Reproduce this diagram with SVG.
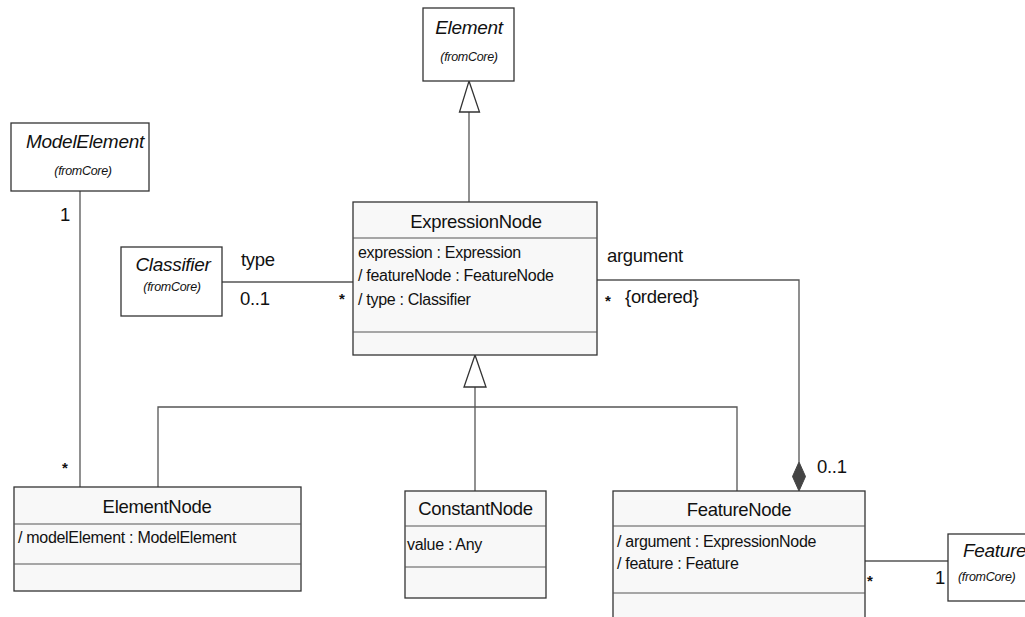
<svg xmlns="http://www.w3.org/2000/svg" width="1025" height="617" viewBox="0 0 1025 617">
  <style>
    .cls { fill: #f8f8f8; stroke: #333; stroke-width: 1.3; }
    .ref { fill: #ffffff; stroke: #333; stroke-width: 1.3; }
    .div { stroke: #555; stroke-width: 1.2; }
    .ln { fill: none; stroke: #555; stroke-width: 1.3; }
    text { font-family: "Liberation Sans", Arial, sans-serif; fill: #111; }
    .title { font-size: 18.5px; text-anchor: middle; letter-spacing: -0.3px; }
    .attr { font-size: 16px; letter-spacing: -0.3px; }
    .ital { font-size: 19px; font-style: italic; letter-spacing: -0.3px; }
    .from { font-size: 12.5px; font-style: italic; letter-spacing: -0.3px; }
    .lbl { font-size: 18.5px; letter-spacing: -0.3px; }
    .star { font-size: 15px; font-weight: bold; }
  </style>

  <!-- connectors -->
  <g id="connectors">
    <!-- generalization to Element -->
    <line class="ln" x1="469" y1="112" x2="469" y2="202"/>
    <polygon points="469,81 479.5,112 459.5,112" fill="#fff" stroke="#333" stroke-width="1.3"/>
    <!-- generalization tree to ExpressionNode -->
    <polyline class="ln" points="158,487 158,407 737,407 737,491"/>
    <line class="ln" x1="475" y1="387" x2="475" y2="491"/>
    <polygon points="475,355 486,387 464,387" fill="#fff" stroke="#333" stroke-width="1.3"/>
    <!-- ModelElement association -->
    <line class="ln" x1="80" y1="191" x2="80" y2="487"/>
    <!-- Classifier association -->
    <line class="ln" x1="222" y1="282" x2="353" y2="282"/>
    <!-- argument composition -->
    <polyline class="ln" points="597,280 799,280 799,462"/>
    <polygon points="799,462 805.5,476.5 799,491 792.5,476.5" fill="#444" stroke="#444" stroke-width="1"/>
    <!-- Feature association -->
    <line class="ln" x1="865" y1="561" x2="948" y2="561"/>

    <!-- association end labels -->
    <text class="lbl" x="60" y="221">1</text>
    <text class="star" x="62" y="473">*</text>
    <text class="lbl" x="241" y="266">type</text>
    <text class="lbl" x="240" y="305">0..1</text>
    <text class="star" x="339" y="304">*</text>
    <text class="lbl" x="607" y="262">argument</text>
    <text class="star" x="605" y="306">*</text>
    <text class="lbl" x="625" y="303">{ordered}</text>
    <text class="lbl" x="817" y="473">0..1</text>
    <text class="star" x="867" y="586">*</text>
    <text class="lbl" x="935" y="584">1</text>
  </g>

  <!-- Element -->
  <g id="element">
    <rect class="ref" x="423" y="8" width="91" height="73"/>
    <text class="ital" x="469" y="34" text-anchor="middle">Element</text>
    <text class="from" x="469" y="61" text-anchor="middle">(fromCore)</text>
  </g>

  <!-- ModelElement -->
  <g id="model-element">
    <rect class="ref" x="11" y="123" width="138" height="68"/>
    <text class="ital" x="85" y="148" text-anchor="middle">ModelElement</text>
    <text class="from" x="83" y="175" text-anchor="middle">(fromCore)</text>
  </g>

  <!-- Classifier -->
  <g id="classifier">
    <rect class="ref" x="121" y="247" width="101" height="69"/>
    <text class="ital" x="173" y="271" text-anchor="middle">Classifier</text>
    <text class="from" x="172" y="291" text-anchor="middle">(fromCore)</text>
  </g>

  <!-- ExpressionNode -->
  <g id="expression-node">
    <rect class="cls" x="353" y="202" width="244" height="153"/>
    <line class="div" x1="353" y1="238" x2="597" y2="238"/>
    <line class="div" x1="353" y1="332" x2="597" y2="332"/>
    <text class="title" x="476" y="228">ExpressionNode</text>
    <text class="attr" x="358" y="258">expression : Expression</text>
    <text class="attr" x="358" y="281">/ featureNode : FeatureNode</text>
    <text class="attr" x="358" y="305">/ type : Classifier</text>
  </g>

  <!-- ElementNode -->
  <g id="element-node">
    <rect class="cls" x="14" y="487" width="287" height="104"/>
    <line class="div" x1="14" y1="524" x2="301" y2="524"/>
    <line class="div" x1="14" y1="564" x2="301" y2="564"/>
    <text class="title" x="157" y="513">ElementNode</text>
    <text class="attr" x="18" y="543">/ modelElement : ModelElement</text>
  </g>

  <!-- ConstantNode -->
  <g id="constant-node">
    <rect class="cls" x="405" y="491" width="141" height="107"/>
    <line class="div" x1="405" y1="526" x2="546" y2="526"/>
    <line class="div" x1="405" y1="567" x2="546" y2="567"/>
    <text class="title" x="475.5" y="515">ConstantNode</text>
    <text class="attr" x="407" y="550">value : Any</text>
  </g>

  <!-- FeatureNode -->
  <g id="feature-node">
    <rect class="cls" x="613" y="491" width="252" height="140"/>
    <line class="div" x1="613" y1="526" x2="865" y2="526"/>
    <line class="div" x1="613" y1="593" x2="865" y2="593"/>
    <text class="title" x="739" y="516">FeatureNode</text>
    <text class="attr" x="617" y="547">/ argument : ExpressionNode</text>
    <text class="attr" x="617" y="569">/ feature : Feature</text>
  </g>

  <!-- Feature -->
  <g id="feature">
    <rect class="ref" x="948" y="534" width="95" height="67"/>
    <text class="ital" x="963" y="557">Feature</text>
    <text class="from" x="958" y="581">(fromCore)</text>
  </g>
</svg>
